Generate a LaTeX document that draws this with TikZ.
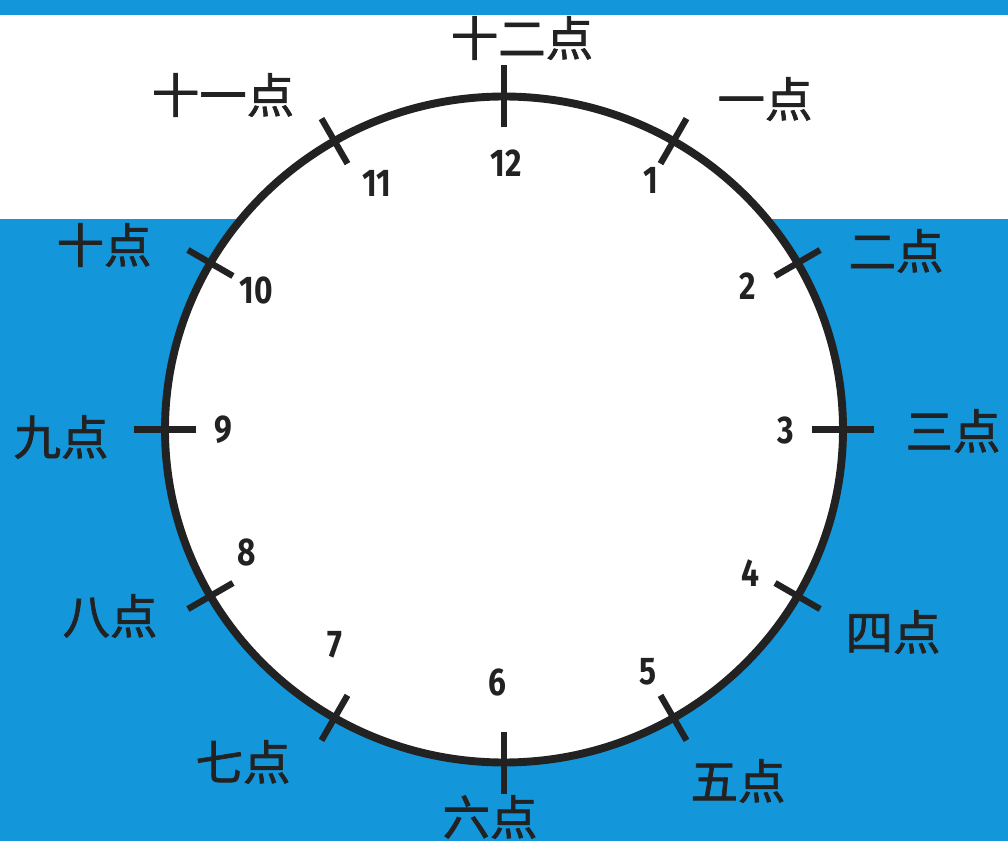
\documentclass[tikz,border=0pt]{standalone}
\usepackage{fontspec}
\newfontfamily\cjk{Noto Sans CJK SC}[FakeBold=1.5]
\newfontfamily\numfont{Fira Sans}[FakeStretch=0.82]
\definecolor{skyblue}{HTML}{1396DA}
\definecolor{ink}{HTML}{222222}
\tikzset{
  numlabel/.style={font=\numfont\bfseries\fontsize{22}{22}\selectfont, text=ink, inner sep=0pt},
  cnlabel/.style={font=\cjk\fontsize{27}{27}\selectfont, text=ink, inner sep=0pt},
}
\begin{document}
\begin{tikzpicture}[x=0.02cm,y=-0.02cm]
\useasboundingbox (0,0) rectangle (1008,841);
\fill[skyblue] (0,0) rectangle (1008,841);
\fill[white] (0,15) rectangle (1008,219);
\draw[ink,line width=4.5pt,fill=white] (504,429.5) ellipse [x radius=339, y radius=333];
\foreach \h in {1,...,12} {
  \pgfmathsetmacro{\a}{90-30*\h}
  \pgfmathsetmacro{\d}{mod(\h,3)==0 ? 31 : 26}
  \draw[ink,line width=3.6pt]
    ({504+(339-\d)*cos(\a)},{429.5-(333-\d)*sin(\a)}) --
    ({504+(339+\d)*cos(\a)},{429.5-(333+\d)*sin(\a)});
}
\node[numlabel] (h12) at (506,163) {12};
\node[numlabel] (h1) at (651,180) {1};
\node[numlabel] (h2) at (748,286) {2};
\node[numlabel] (h3) at (786,430) {3};
\node[numlabel] (h4) at (750,573) {4};
\node[numlabel] (h5) at (648,672) {5};
\node[numlabel] (h6) at (497,682) {6};
\node[numlabel] (h7) at (335,645) {7};
\node[numlabel] (h8) at (247,552) {8};
\node[numlabel] (h9) at (223,430) {9};
\node[numlabel] (h10) at (256,290) {10};
\node[numlabel] (h11) at (377,183) {11};
\node[cnlabel] (c12) at (522,38) {十二点};
\node[cnlabel] (c1) at (765,99) {一点};
\node[cnlabel] (c2) at (896,251) {二点};
\node[cnlabel] (c3) at (953,431) {三点};
\node[cnlabel] (c4) at (893,632) {四点};
\node[cnlabel] (c5) at (738,781) {五点};
\node[cnlabel] (c6) at (490,817) {六点};
\node[cnlabel] (c7) at (243,762) {七点};
\node[cnlabel] (c8) at (110,616) {八点};
\node[cnlabel] (c9) at (61,437) {九点};
\node[cnlabel] (c10) at (104,245) {十点};
\node[cnlabel] (c11) at (223,95) {十一点};
\end{tikzpicture}
\end{document}
